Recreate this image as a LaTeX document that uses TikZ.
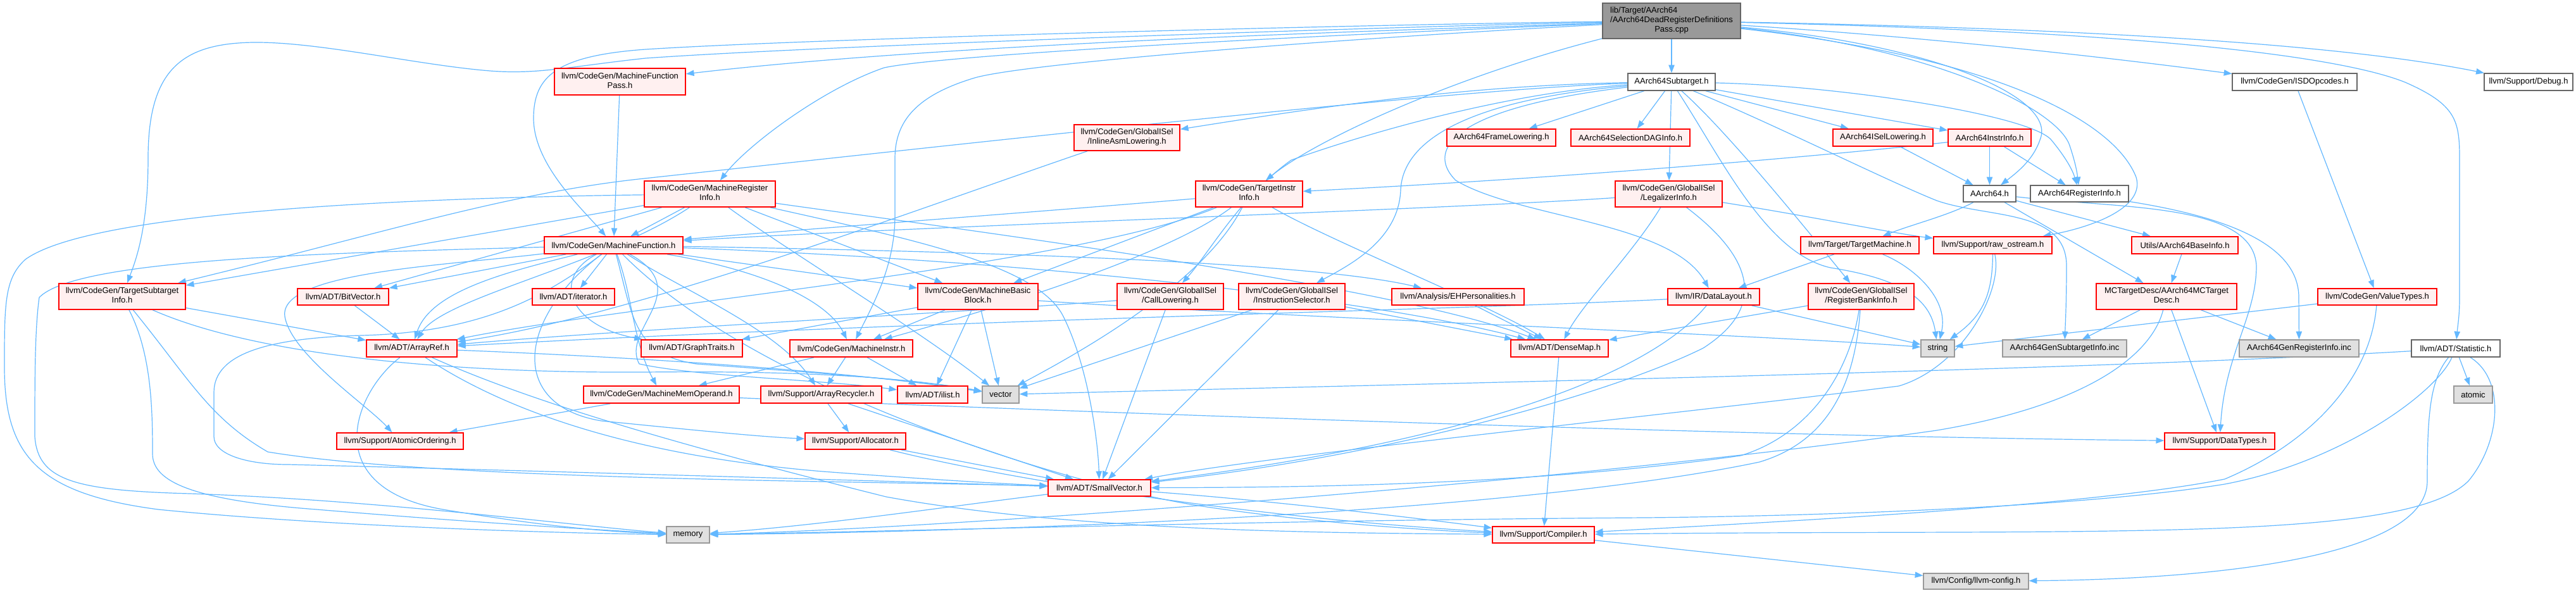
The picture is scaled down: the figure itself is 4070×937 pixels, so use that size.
\documentclass[tikz,border=0pt]{standalone}
\usepackage{fontspec}
\setmainfont{Liberation Sans}
\usetikzlibrary{arrows.meta}
\definecolor{dred}{HTML}{FF0000}
\definecolor{redfill}{HTML}{FFF0F0}
\definecolor{gfill}{HTML}{E0E0E0}
\definecolor{gborder}{HTML}{999999}
\definecolor{wborder}{HTML}{666666}
\definecolor{mfill}{HTML}{999999}
\definecolor{mborder}{HTML}{666666}
\definecolor{eblue}{HTML}{63B8FF}
\newcommand\twol[2]{\begin{tabular}{@{}l@{}}#1\\\multicolumn{1}{@{}c@{}}{#2}\end{tabular}}
\newcommand\threel[3]{\begin{tabular}{@{}l@{}}#1\\#2\\\multicolumn{1}{@{}c@{}}{#3}\end{tabular}}
\pgfdeclarelayer{bgl}
\pgfdeclarelayer{edges}
\pgfsetlayers{bgl,edges,main}
\tikzset{
  nd/.style={draw, rectangle, inner sep=0pt, line width=1pt, font=\fontsize{9.75}{11.25}\selectfont, text=black, align=center},
  rn/.style 2 args={nd, draw=dred, line width=1.3pt, fill=redfill, minimum width=#1*0.75pt, minimum height=#2*0.75pt},
  gn/.style 2 args={nd, draw=gborder, fill=gfill, minimum width=#1*0.75pt, minimum height=#2*0.75pt},
  wn/.style 2 args={nd, draw=wborder, fill=white, minimum width=#1*0.75pt, minimum height=#2*0.75pt},
  mn/.style 2 args={nd, draw=mborder, fill=mfill, minimum width=#1*0.75pt, minimum height=#2*0.75pt},
  e/.style={draw=eblue, line width=0.9pt, -{Triangle[length=9.5pt,width=7pt]}}
}
\begin{document}
\begin{tikzpicture}[x=0.75pt, y=-0.75pt]
\useasboundingbox (0,0) rectangle (4070,937);
\begin{pgfonlayer}{bgl}
\fill[white] (0,0) rectangle (4070,937);
\end{pgfonlayer}
% ---------- nodes ----------
\node[mn={218}{56}] (m) at (2641,33) {\threel{lib/Target/AArch64}{/AArch64DeadRegisterDefinitions}{Pass.cpp}};
\node[wn={138}{27}] (sub) at (2641,129.5) {AArch64Subtarget.h};
\node[rn={207}{42}] (mfp) at (979.5,129) {\twol{llvm/CodeGen/MachineFunction}{Pass.h}};
\node[wn={197}{27}] (isd) at (3625.5,129.5) {llvm/CodeGen/ISDOpcodes.h};
\node[wn={140}{27}] (dbg) at (3995,129.5) {llvm/Support/Debug.h};
\node[rn={167}{41}] (ial) at (1780.5,217.5) {\twol{llvm/CodeGen/GlobalISel}{/InlineAsmLowering.h}};
\node[rn={172}{27}] (afl) at (2372,217.5) {AArch64FrameLowering.h};
\node[rn={188}{27}] (sdag) at (2576,217.5) {AArch64SelectionDAGInfo.h};
\node[rn={158}{27}] (isel) at (2975,217.5) {AArch64ISelLowering.h};
\node[rn={131}{27}] (ii) at (3143.5,217.5) {AArch64InstrInfo.h};
\node[rn={207}{41}] (mri) at (1121.5,306.5) {\twol{llvm/CodeGen/MachineRegister}{Info.h}};
\node[rn={169}{41}] (tii) at (1973.5,306.5) {\twol{llvm/CodeGen/TargetInstr}{Info.h}};
\node[rn={169}{41}] (leg) at (2636.5,306.5) {\twol{llvm/CodeGen/GlobalISel}{/LegalizerInfo.h}};
\node[wn={83}{26}] (a64) at (3143.5,306) {AArch64.h};
\node[wn={155}{26}] (ri) at (3285.5,306) {AArch64RegisterInfo.h};
\node[rn={219}{27}] (mf) at (969.5,387.5) {llvm/CodeGen/MachineFunction.h};
\node[rn={187}{27}] (tm) at (2938.5,387.5) {llvm/Target/TargetMachine.h};
\node[rn={187}{27}] (ros) at (3148.5,387.5) {llvm/Support/raw\_ostream.h};
\node[rn={168}{27}] (bi) at (3452,387.5) {Utils/AArch64BaseInfo.h};
\node[rn={200}{41}] (tsi) at (193,468.5) {\twol{llvm/CodeGen/TargetSubtarget}{Info.h}};
\node[rn={144}{26}] (bv) at (542,469) {llvm/ADT/BitVector.h};
\node[rn={130}{26}] (it) at (906,469) {llvm/ADT/iterator.h};
\node[rn={190}{41}] (mbb) at (1545,468.5) {\twol{llvm/CodeGen/MachineBasic}{Block.h}};
\node[rn={168}{41}] (cl) at (1849,468.5) {\twol{llvm/CodeGen/GlobalISel}{/CallLowering.h}};
\node[rn={168}{41}] (is) at (2041,468.5) {\twol{llvm/CodeGen/GlobalISel}{/InstructionSelector.h}};
\node[rn={209}{26}] (eh) at (2303.5,469) {llvm/Analysis/EHPersonalities.h};
\node[rn={145}{26}] (dl) at (2707.5,469) {llvm/IR/DataLayout.h};
\node[rn={167}{41}] (rbi) at (2940.5,468.5) {\twol{llvm/CodeGen/GlobalISel}{/RegisterBankInfo.h}};
\node[rn={222}{41}] (mcd) at (3423,468.5) {\twol{MCTargetDesc/AArch64MCTarget}{Desc.h}};
\node[rn={188}{26}] (vt) at (3756,469) {llvm/CodeGen/ValueTypes.h};
\node[rn={143}{27}] (ar) at (650.5,550.5) {llvm/ADT/ArrayRef.h};
\node[rn={160}{27}] (gt) at (1093,550.5) {llvm/ADT/GraphTraits.h};
\node[rn={194}{27}] (mi) at (1345,550.5) {llvm/CodeGen/MachineInstr.h};
\node[rn={154}{27}] (dm) at (2464,550.5) {llvm/ADT/DenseMap.h};
\node[gn={53}{27}] (str) at (3061.5,550.5) {string};
\node[gn={196}{27}] (gsi) at (3262,550.5) {AArch64GenSubtargetInfo.inc};
\node[gn={189}{27}] (gri) at (3632.5,550.5) {AArch64GenRegisterInfo.inc};
\node[wn={140}{27}] (st) at (3880,550.5) {llvm/ADT/Statistic.h};
\node[rn={246}{27}] (mmo) at (1045,623.5) {llvm/CodeGen/MachineMemOperand.h};
\node[rn={191}{27}] (arc) at (1297.5,623.5) {llvm/Support/ArrayRecycler.h};
\node[rn={111}{27}] (il) at (1473.5,623.5) {llvm/ADT/ilist.h};
\node[gn={58}{27}] (vec) at (1581,623.5) {vector};
\node[gn={61}{27}] (at) at (3907.5,623.5) {atomic};
\node[rn={200}{26}] (ao) at (632,697) {llvm/Support/AtomicOrdering.h};
\node[rn={159}{26}] (al) at (1351.5,697) {llvm/Support/Allocator.h};
\node[rn={174}{26}] (dt) at (3507,697) {llvm/Support/DataTypes.h};
\node[rn={162}{26}] (sv) at (1737,771) {llvm/ADT/SmallVector.h};
\node[gn={68}{26}] (mem) at (1087,845) {memory};
\node[rn={161}{26}] (cmp) at (2438.5,845) {llvm/Support/Compiler.h};
\node[gn={166}{25}] (cfg) at (3122,918.5) {llvm/Config/llvm-config.h};
% ---------- edges ----------
\begin{pgfonlayer}{edges}
% main
\draw[e] (m) -- (sub);
\draw[e] (m) .. controls (2200,48) and (1500,68) .. (mfp);
\draw[e] (m) .. controls (2200,38) and (1300,60) .. (1020,78) .. controls (880,88) and (843,120) .. (843,187) .. controls (843,260) and (920,330) .. (mf);
\draw[e] (m) .. controls (2200,42) and (1300,72) .. (1020,92) .. controls (900,105) and (850,118) .. (774,112) .. controls (650,102) and (480,60) .. (377,68) .. controls (280,75) and (234,120) .. (234,250) .. controls (234,360) and (215,410) .. (tsi);
\draw[e] (m) .. controls (2100,55) and (1500,85) .. (1397,107) .. controls (1300,140) and (1180,230) .. (mri);
\draw[e] (m) .. controls (2100,62) and (1620,100) .. (1540,123) .. controls (1450,150) and (1414,190) .. (1414,250) -- (1414,340) .. controls (1414,420) and (1380,480) .. (mi);
\draw[e] (m) .. controls (2300,120) and (2080,220) .. (tii);
\draw[e] (m) .. controls (3100,62) and (3400,100) .. (isd);
\draw[e] (m) .. controls (3300,45) and (3700,70) .. (dbg);
\draw[e] (m) .. controls (3400,50) and (3700,90) .. (3800,130) .. controls (3880,165) and (3886,190) .. (3886,250) -- (3886,470) .. controls (3886,500) and (3883,515) .. (st);
\draw[e] (m) .. controls (3050,70) and (3240,150) .. (3225,215) .. controls (3215,250) and (3190,270) .. (a64);
\draw[e] (m) .. controls (3050,75) and (3250,170) .. (3270,230) .. controls (3280,260) and (3282,275) .. (ri);
\draw[e] (m) .. controls (3150,90) and (3340,190) .. (3375,280) .. controls (3390,330) and (3300,360) .. (ros);
% subtarget
\draw[e] (sub) -- (afl);
\draw[e] (sub) -- (sdag);
\draw[e] (sub) -- (isel);
\draw[e] (sub) -- (ii);
\draw[e] (sub) .. controls (2900,135) and (3200,180) .. (3240,220) .. controls (3265,250) and (3275,270) .. (ri);
\draw[e] (sub) .. controls (2300,135) and (2050,175) .. (ial);
\draw[e] (sub) .. controls (2300,140) and (1500,230) .. (1018,282) .. controls (800,305) and (600,370) .. (tsi);
\draw[e] (sub) .. controls (2400,145) and (2190,200) .. (2040,253) .. controls (1960,310) and (1910,400) .. (cl);
\draw[e] (sub) .. controls (2300,160) and (2216,230) .. (2213,300) .. controls (2210,380) and (2130,420) .. (is);
\draw[e] (sub) .. controls (2300,170) and (2250,235) .. (2300,285) .. controls (2400,345) and (2640,350) .. (dl);
\draw[e] (sub) -- (leg);
\draw[e] (sub) .. controls (2720,200) and (2820,320) .. (rbi);
\draw[e] (sub) .. controls (2720,250) and (2790,400) .. (2892,423) .. controls (3000,440) and (3050,470) .. (str);
\draw[e] (sub) .. controls (2800,195) and (2980,285) .. (3060,317) .. controls (3140,345) and (3265,330) .. (3265,420) .. controls (3265,480) and (3263,515) .. (gsi);
% machine function pass
\draw[e] (mfp) -- (mf);
% machine register info
\draw[e] (mri) -- (mf);
\draw[e] (mri) -- (tsi);
\draw[e] (mri) -- (bv);
\draw[e] (mri) .. controls (700,312) and (150,330) .. (40,410) .. controls (7,440) and (7,480) .. (7,580) .. controls (7,720) and (60,780) .. (250,805) .. controls (500,830) and (850,842) .. (mem);
\draw[e] (mri) -- (mbb);
\draw[e] (mri) .. controls (1500,360) and (2200,450) .. (dm);
\draw[e] (mri) .. controls (1450,380) and (1640,420) .. (1680,500) .. controls (1720,580) and (1735,700) .. (sv);
\draw[e] (mri) .. controls (1250,400) and (1450,520) .. (vec);
\draw[e] (mri) .. controls (950,420) and (700,470) .. (ar);
% target instr info
\draw[e] (tii) .. controls (1700,330) and (1300,360) .. (mf);
\draw[e] (tii) -- (mbb);
\draw[e] (tii) .. controls (1850,400) and (1600,480) .. (mi);
\draw[e] (tii) .. controls (1700,420) and (1000,480) .. (ar);
\draw[e] (tii) .. controls (2100,380) and (2350,480) .. (dm);
\draw[e] (tii) .. controls (1900,450) and (1700,560) .. (vec);
% legalizer info
\draw[e] (leg) .. controls (2300,330) and (1400,360) .. (mf);
\draw[e] (leg) .. controls (2580,400) and (2500,480) .. (dm);
\draw[e] (leg) .. controls (2760,400) and (2800,480) .. (2691,550) .. controls (2550,620) and (2200,720) .. (sv);
\draw[e] (leg) .. controls (2850,340) and (3000,370) .. (ros);
% instr info, isel lowering
\draw[e] (ii) -- (a64);
\draw[e] (ii) -- (ri);
\draw[e] (ii) .. controls (2800,255) and (2400,285) .. (tii);
\draw[e] (isel) -- (a64);
% AArch64.h
\draw[e] (a64) .. controls (3080,340) and (3020,355) .. (tm);
\draw[e] (a64) -- (bi);
\draw[e] (a64) -- (mcd);
\draw[e] (a64) .. controls (3350,330) and (3560,320) .. (3565,420) .. controls (3565,500) and (3515,560) .. (dt);
\draw[e] (ri) .. controls (3500,340) and (3632,380) .. (3632,470) -- (gri);
\draw[e] (isd) -- (vt);
% target machine, raw_ostream, base info
\draw[e] (tm) -- (dl);
\draw[e] (tm) .. controls (3020,420) and (3080,470) .. (str);
\draw[e] (ros) .. controls (3148,470) and (3130,500) .. (str);
\draw[e] (ros) .. controls (3165,460) and (3100,580) .. (3000,610) .. controls (2600,660) and (2000,720) .. (sv);
\draw[e] (bi) -- (mcd);
% MC target desc
\draw[e] (mcd) -- (gsi);
\draw[e] (mcd) -- (gri);
\draw[e] (mcd) -- (dt);
\draw[e] (mcd) .. controls (3400,560) and (3300,640) .. (3060,680) .. controls (2500,760) and (1500,835) .. (mem);
% value types
\draw[e] (vt) -- (str);
\draw[e] (vt) .. controls (3745,600) and (3650,700) .. (3515,757) .. controls (3300,800) and (2800,825) .. (cmp);
% statistic
\draw[e] (st) -- (at);
\draw[e] (st) .. controls (3300,585) and (2300,605) .. (vec);
\draw[e] (st) .. controls (3840,600) and (3835,650) .. (3835,760) .. controls (3835,880) and (3500,915) .. (cfg);
\draw[e] (st) .. controls (3850,620) and (3700,730) .. (3515,765) .. controls (3300,800) and (2900,815) .. (2600,818) .. controls (2000,822) and (1500,838) .. (mem);
\draw[e] (st) .. controls (3960,600) and (3950,700) .. (3900,760) .. controls (3800,860) and (3300,835) .. (cmp);
\draw[e] (cmp) -- (cfg);
\draw[e] (dm) -- (cmp);
\draw[e] (eh) -- (dm);
% instruction selector, call lowering, inline asm
\draw[e] (is) -- (dm);
\draw[e] (is) -- (vec);
\draw[e] (is) -- (sv);
\draw[e] (cl) -- (sv);
\draw[e] (cl) .. controls (1500,495) and (1000,520) .. (ar);
\draw[e] (ial) .. controls (1450,330) and (1000,500) .. (ar);
% data layout
\draw[e] (dl) .. controls (2300,490) and (1500,505) .. (ar);
\draw[e] (dl) .. controls (2600,600) and (2300,700) .. (sv);
\draw[e] (dl) -- (str);
% register bank info
\draw[e] (rbi) -- (dm);
\draw[e] (rbi) .. controls (2920,600) and (2850,690) .. (2750,720) .. controls (2400,770) and (2000,770) .. (sv);
\draw[e] (rbi) .. controls (2930,620) and (2880,700) .. (2780,730) .. controls (2400,810) and (1600,840) .. (mem);
% machine basic block
\draw[e] (mbb) -- (gt);
\draw[e] (mbb) -- (mi);
\draw[e] (mbb) -- (il);
\draw[e] (mbb) -- (vec);
\draw[e] (mbb) .. controls (2000,500) and (2800,530) .. (str);
% machine instr
\draw[e] (mi) -- (mmo);
\draw[e] (mi) -- (arc);
\draw[e] (mi) -- (il);
\draw[e] (mmo) -- (ao);
\draw[e] (mmo) .. controls (1800,655) and (2800,690) .. (dt);
\draw[e] (arc) -- (al);
\draw[e] (arc) -- (sv);
\draw[e] (al) -- (sv);
\draw[e] (al) .. controls (1600,760) and (2000,820) .. (cmp);
\draw[e] (bv) -- (ar);
% target subtarget info
\draw[e] (tsi) -- (ar);
\draw[e] (tsi) .. controls (400,560) and (700,590) .. (1020,588) .. controls (1300,585) and (1450,600) .. (vec);
\draw[e] (tsi) .. controls (300,600) and (330,660) .. (423,714) .. controls (700,760) and (1400,760) .. (sv);
\draw[e] (tsi) .. controls (240,560) and (241,650) .. (241,717) .. controls (241,760) and (300,790) .. (500,805) .. controls (800,830) and (1000,840) .. (mem);
% array ref
\draw[e] (ar) .. controls (560,620) and (500,770) .. (700,805) .. controls (850,830) and (950,840) .. (mem);
\draw[e] (ar) .. controls (800,650) and (1000,720) .. (1300,745) .. controls (1500,760) and (1600,765) .. (sv);
\draw[e] (ar) .. controls (850,640) and (1100,710) .. (1400,785) .. controls (1700,840) and (2100,842) .. (cmp);
\draw[e] (ar) .. controls (900,560) and (1300,580) .. (vec);
% small vector
\draw[e] (sv) .. controls (1500,800) and (1300,830) .. (mem);
\draw[e] (sv) .. controls (2000,790) and (2250,820) .. (cmp);
% machine function
\draw[e] (mf) -- (it);
\draw[e] (mf) -- (mbb);
\draw[e] (mf) .. controls (1220,430) and (1310,480) .. (mi);
\draw[e] (mf) .. controls (870,440) and (900,515) .. (gt);
\draw[e] (mf) .. controls (800,430) and (680,460) .. (ar);
\draw[e] (mf) -- (bv);
\draw[e] (mf) .. controls (1700,415) and (2200,480) .. (dm);
\draw[e] (mf) .. controls (1700,400) and (2100,420) .. (eh);
\draw[e] (mf) .. controls (1100,460) and (980,520) .. (1010,575) .. controls (1100,595) and (1300,600) .. (il);
\draw[e] (mf) .. controls (1000,500) and (1000,560) .. (1100,575) .. controls (1300,590) and (1450,600) .. (vec);
\draw[e] (mf) .. controls (1000,470) and (1000,540) .. (mmo);
\draw[e] (mf) .. controls (1080,460) and (1230,520) .. (arc);
\draw[e] (mf) .. controls (820,500) and (800,640) .. (950,665) .. controls (1100,680) and (1200,690) .. (al);
\draw[e] (mf) .. controls (700,420) and (440,430) .. (450,500) .. controls (460,560) and (580,640) .. (ao);
\draw[e] (mf) .. controls (1200,620) and (1700,770) .. (1900,800) .. controls (2100,830) and (2300,840) .. (cmp);
\draw[e] (mf) .. controls (500,400) and (120,410) .. (62,470) .. controls (55,520) and (55,600) .. (55,690) .. controls (60,760) and (120,775) .. (300,780) .. controls (600,790) and (900,830) .. (mem);
\draw[e] (mf) .. controls (860,470) and (760,525) .. (572,530) .. controls (420,534) and (338,560) .. (338,620) -- (338,690) .. controls (338,718) and (390,734) .. (455,734) .. controls (700,740) and (1400,760) .. (sv);
\end{pgfonlayer}
\end{tikzpicture}
\end{document}
